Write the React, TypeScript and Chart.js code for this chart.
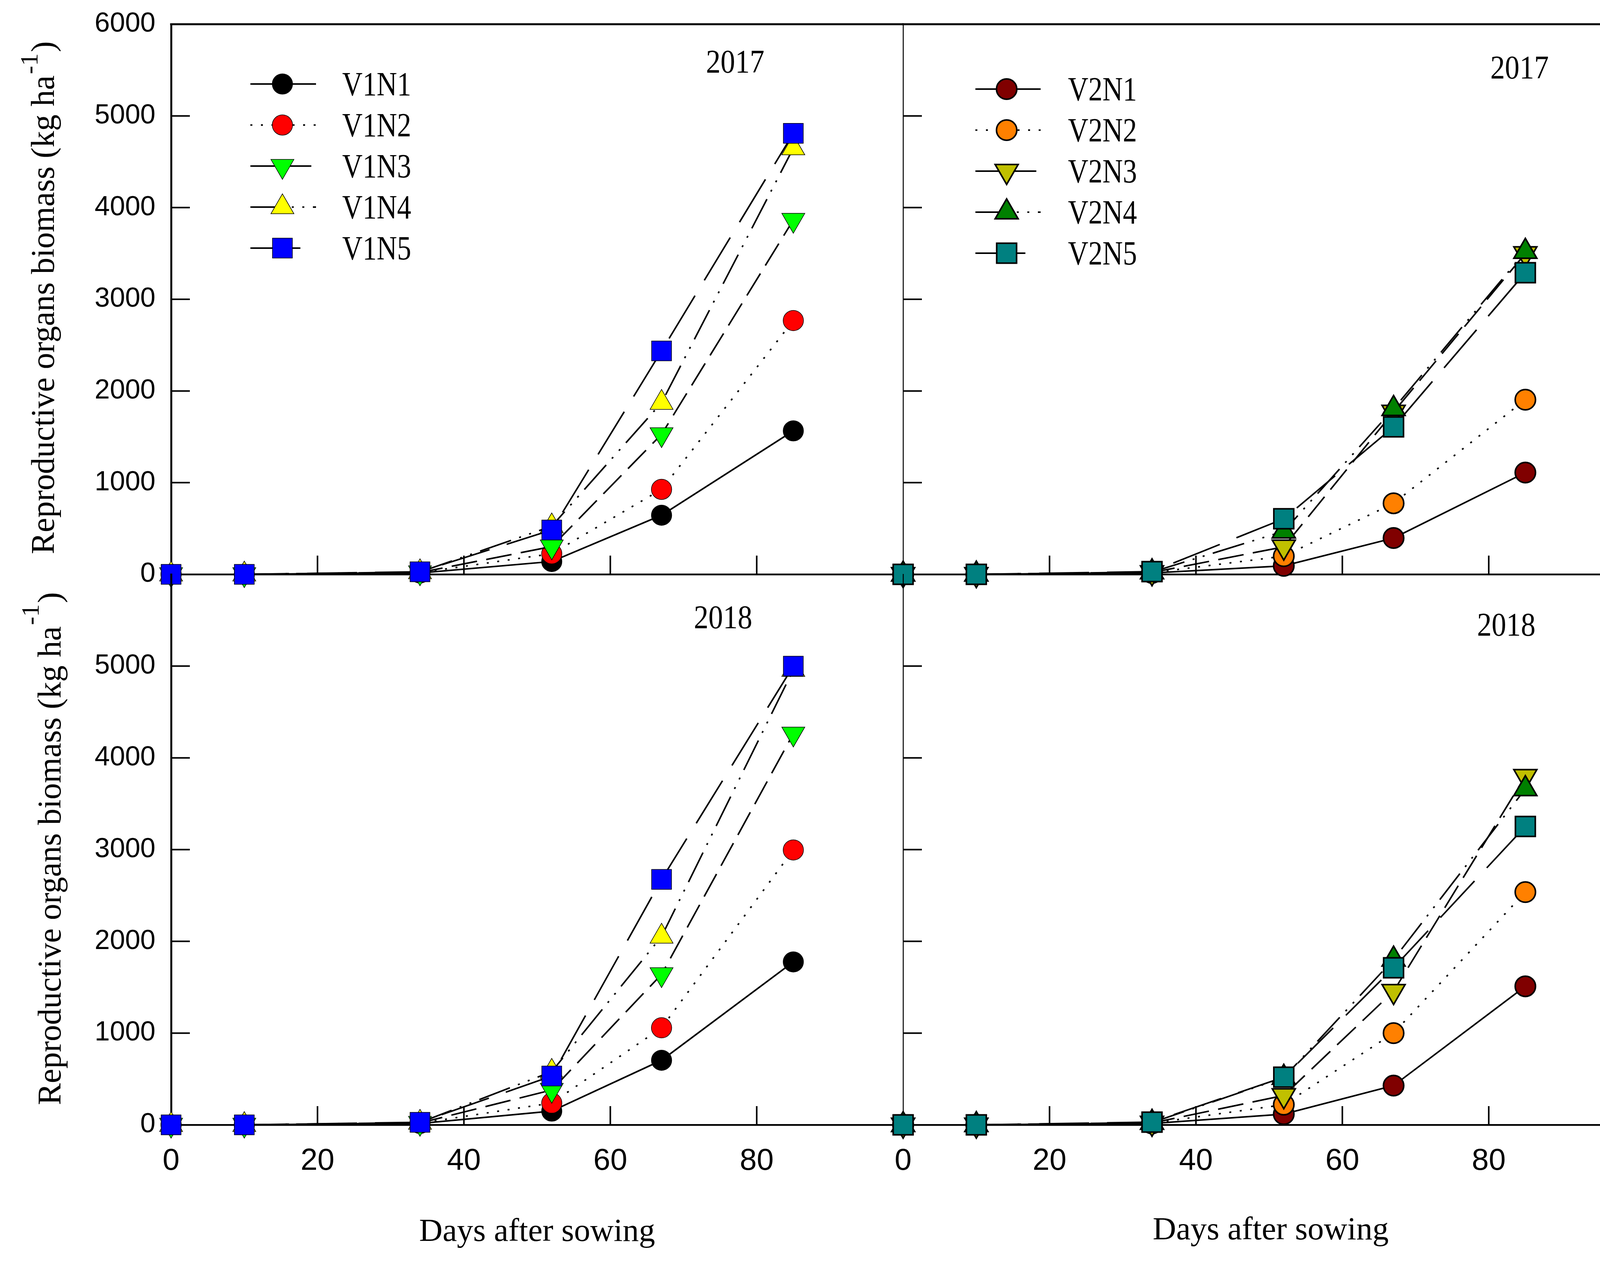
import React, { useEffect, useRef } from 'react';
import { Chart, registerables } from 'chart.js';
import { drawPoint } from 'chart.js/helpers';

Chart.register(...registerables);

// ---------------- data ----------------
const days = [0, 10, 34, 52, 67, 85];
const xTickValues = [20, 40, 60, 80];
const yTickValues = [1000, 2000, 3000, 4000, 5000];
const v1Labels = ['V1N1', 'V1N2', 'V1N3', 'V1N4', 'V1N5'];
const v2Labels = ['V2N1', 'V2N2', 'V2N3', 'V2N4', 'V2N5'];
const yearLabels = ['2017', '2018'];

const v1N1_2017 = [0, 0, 15, 140, 645, 1565];
const v1N2_2017 = [0, 0, 18, 225, 927, 2768];
const v1N3_2017 = [0, 0, 20, 303, 1527, 3865];
const v1N4_2017 = [0, 0, 25, 525, 1872, 4648];
const v1N5_2017 = [0, 0, 28, 484, 2437, 4810];

const v2N1_2017 = [0, 0, 15, 93, 396, 1110];
const v2N2_2017 = [0, 0, 18, 198, 775, 1905];
const v2N3_2017 = [0, 0, 20, 300, 1771, 3500];
const v2N4_2017 = [0, 0, 25, 470, 1806, 3520];
const v2N5_2017 = [0, 0, 30, 606, 1608, 3290];

const v1N1_2018 = [0, 0, 15, 150, 704, 1776];
const v1N2_2018 = [0, 0, 18, 238, 1058, 2996];
const v1N3_2018 = [0, 0, 20, 380, 1640, 4263];
const v1N4_2018 = [0, 0, 25, 580, 2053, 4960];
const v1N5_2018 = [0, 0, 28, 532, 2675, 5000];

const v2N1_2018 = [0, 0, 15, 117, 428, 1510];
const v2N2_2018 = [0, 0, 18, 220, 1000, 2537];
const v2N3_2018 = [0, 0, 20, 320, 1456, 3800];
const v2N4_2018 = [0, 0, 25, 515, 1803, 3661];
const v2N5_2018 = [0, 0, 30, 520, 1712, 3252];

// ---------------- styles ----------------
const v1Colors = ['#000000', '#FF0000', '#00FF00', '#FFFF00', '#0000FF'];
const v2Colors = ['#800000', '#FF8000', '#C0C000', '#008000', '#008080'];
const pointStyles = ['circle', 'circle', 'triangle', 'triangle', 'rect'];
const pointRotations = [0, 0, 180, 0, 0];
const pointRadii = [26, 26, 34, 34, 36];
const dashes: number[][] = [[], [5, 22], [66, 24], [84, 22, 5, 22, 5, 22], [128, 46]];

const SERIF = '"Liberation Serif", "Times New Roman", serif';
const SANS = '"Liberation Sans", Arial, sans-serif';

function makeDatasets(labels: string[], series: number[][], colors: string[], pbw: number) {
  return labels.map((label, i) => ({
    label,
    data: days.map((d, j) => ({ x: d, y: series[i][j] })),
    borderColor: '#000',
    borderWidth: 4,
    borderDash: dashes[i],
    pointStyle: pointStyles[i],
    pointRotation: pointRotations[i],
    pointRadius: pointRadii[i],
    pointBackgroundColor: colors[i],
    pointBorderColor: '#000',
    pointBorderWidth: pbw,
    fill: false,
    tension: 0,
    clip: false,
    order: 5 - i,
  }));
}

type Cfg = {
  key: string;
  left: number; top: number; w: number; h: number;
  yAxisW: number; padTop: number; padRight: number; xAxisH: number;
  yLabels: boolean; xLabels: boolean; hideY6000: boolean; hideX100: boolean;
  yBorder: number; topBorder: boolean; rightBorder: boolean;
  datasets: any[];
  year: string; yearX: number; yearY: number;
  legend: null | { x1: number; x2: number; xm: number; tx: number; y0: number; dy: number };
  yTitle: null | { bx: number; cy: number; raise: number };
  xTitle: null | { cx: number; by: number };
};

const panels: Cfg[] = [
  {
    key: 'TL', left: 0, top: 0, w: 2372, h: 1540,
    yAxisW: 438, padTop: 62, padRight: 60, xAxisH: 70,
    yLabels: true, xLabels: false, hideY6000: false, hideX100: true,
    yBorder: 5, topBorder: true, rightBorder: false,
    datasets: makeDatasets(v1Labels, [v1N1_2017, v1N2_2017, v1N3_2017, v1N4_2017, v1N5_2017], v1Colors, 1.5),
    year: yearLabels[0], yearX: 1882, yearY: 186,
    legend: { x1: 641, x2: 809, xm: 723, tx: 876, y0: 215, dy: 105 },
    yTitle: { bx: 138, cy: 762, raise: 42 },
    xTitle: null,
  },
  {
    key: 'BL', left: 0, top: 1400, w: 2372, h: 1830,
    yAxisW: 438, padTop: 70, padRight: 60, xAxisH: 351,
    yLabels: true, xLabels: true, hideY6000: true, hideX100: true,
    yBorder: 5, topBorder: false, rightBorder: false,
    datasets: makeDatasets(v1Labels, [v1N1_2018, v1N2_2018, v1N3_2018, v1N4_2018, v1N5_2018], v1Colors, 1.5),
    year: yearLabels[1], yearX: 1851, yearY: 1608,
    legend: null,
    yTitle: { bx: 155, cy: 2172, raise: 56 },
    xTitle: { cx: 1375, by: 3176 },
  },
  {
    key: 'TR', left: 2232, top: 0, w: 2058, h: 1540,
    yAxisW: 80, padTop: 62, padRight: 104, xAxisH: 70,
    yLabels: false, xLabels: false, hideY6000: false, hideX100: false,
    yBorder: 2.5, topBorder: true, rightBorder: true,
    datasets: makeDatasets(v2Labels, [v2N1_2017, v2N2_2017, v2N3_2017, v2N4_2017, v2N5_2017], v2Colors, 4),
    year: yearLabels[0], yearX: 3890, yearY: 201,
    legend: { x1: 2497, x2: 2664, xm: 2577, tx: 2734, y0: 228, dy: 105 },
    yTitle: null,
    xTitle: null,
  },
  {
    key: 'BR', left: 2232, top: 1400, w: 2058, h: 1830,
    yAxisW: 80, padTop: 70, padRight: 104, xAxisH: 351,
    yLabels: false, xLabels: true, hideY6000: false, hideX100: false,
    yBorder: 2.5, topBorder: false, rightBorder: true,
    datasets: makeDatasets(v2Labels, [v2N1_2018, v2N2_2018, v2N3_2018, v2N4_2018, v2N5_2018], v2Colors, 4),
    year: yearLabels[1], yearX: 3856, yearY: 1627,
    legend: null,
    yTitle: null,
    xTitle: { cx: 3253, by: 3172 },
  },
];

function drawText(ctx: CanvasRenderingContext2D, s: string, x: number, y: number, size: number, sx: number, align: CanvasTextAlign) {
  ctx.save();
  ctx.translate(x, y);
  ctx.scale(sx, 1);
  ctx.font = `${size}px ${SERIF}`;
  ctx.textAlign = align;
  ctx.textBaseline = 'alphabetic';
  ctx.fillStyle = '#000';
  ctx.fillText(s, 0, 0);
  ctx.restore();
}

function makeAnnotate(cfg: Cfg) {
  return {
    id: 'annotate_' + cfg.key,
    beforeDatasetsDraw(chart: any) {
      const ctx: CanvasRenderingContext2D = chart.ctx;
      const ca = chart.chartArea;
      const xs = chart.scales.x;
      const ys = chart.scales.y;
      ctx.save();
      ctx.strokeStyle = '#000';
      ctx.setLineDash([]);
      ctx.lineCap = 'butt';
      ctx.lineWidth = 4;
      for (const v of yTickValues) {
        const py = ys.getPixelForValue(v);
        ctx.beginPath();
        ctx.moveTo(ca.left, py);
        ctx.lineTo(ca.left + 48, py);
        ctx.stroke();
      }
      for (const v of xTickValues) {
        const px = xs.getPixelForValue(v);
        ctx.beginPath();
        ctx.moveTo(px, ca.bottom);
        ctx.lineTo(px, ca.bottom - 48);
        ctx.stroke();
      }
      if (cfg.topBorder) {
        ctx.lineWidth = 5;
        ctx.beginPath();
        ctx.moveTo(ca.left - 2.5, ca.top);
        ctx.lineTo(ca.right + 1.5, ca.top);
        ctx.stroke();
      }
      if (cfg.rightBorder) {
        ctx.lineWidth = 2.5;
        ctx.beginPath();
        ctx.moveTo(ca.right, ca.top);
        ctx.lineTo(ca.right, ca.bottom);
        ctx.stroke();
      }
      ctx.restore();
    },
    afterDatasetsDraw(chart: any) {
      const ctx: CanvasRenderingContext2D = chart.ctx;
      const L = cfg.left, T = cfg.top;
      // year
      drawText(ctx, cfg.year, cfg.yearX - L, cfg.yearY - T, 84, 0.89, 'center');
      // legend
      if (cfg.legend) {
        const lg = cfg.legend;
        chart.data.datasets.forEach((ds: any, i: number) => {
          const y = lg.y0 + i * lg.dy - T;
          ctx.save();
          ctx.strokeStyle = '#000';
          ctx.lineWidth = ds.borderWidth;
          ctx.lineCap = 'butt';
          ctx.setLineDash(ds.borderDash || []);
          ctx.beginPath();
          ctx.moveTo(lg.x1 - L, y);
          ctx.lineTo(lg.x2 - L, y);
          ctx.stroke();
          ctx.setLineDash([]);
          ctx.fillStyle = ds.pointBackgroundColor;
          ctx.strokeStyle = ds.pointBorderColor;
          ctx.lineWidth = ds.pointBorderWidth;
          drawPoint(ctx, {
            pointStyle: ds.pointStyle,
            rotation: ds.pointRotation || 0,
            radius: ds.pointRadius,
            borderWidth: ds.pointBorderWidth,
          } as any, lg.xm - L, y);
          ctx.restore();
          drawText(ctx, ds.label, lg.tx - L, y + 29, 86, 0.84, 'left');
        });
      }
      // y title
      if (cfg.yTitle) {
        const yt = cfg.yTitle;
        const main = 'Reproductive organs biomass (kg ha';
        const sup = '-1';
        const close = ')';
        ctx.save();
        ctx.translate(yt.bx - L, yt.cy - T);
        ctx.rotate(-Math.PI / 2);
        ctx.fillStyle = '#000';
        ctx.textAlign = 'left';
        ctx.textBaseline = 'alphabetic';
        ctx.font = `84px ${SERIF}`;
        const wm = ctx.measureText(main).width;
        const wc = ctx.measureText(close).width;
        ctx.font = `64px ${SERIF}`;
        const ws = ctx.measureText(sup).width;
        let x = -(wm + ws + wc + 6) / 2;
        ctx.font = `84px ${SERIF}`;
        ctx.fillText(main, x, 0);
        x += wm + 3;
        ctx.font = `64px ${SERIF}`;
        ctx.fillText(sup, x, -yt.raise);
        x += ws + 3;
        ctx.font = `84px ${SERIF}`;
        ctx.fillText(close, x, 0);
        ctx.restore();
      }
      // x title
      if (cfg.xTitle) {
        drawText(ctx, 'Days after sowing', cfg.xTitle.cx - L, cfg.xTitle.by - T, 83, 1, 'center');
      }
    },
  };
}

function zeroPadding(s: any) {
  s.paddingTop = 0;
  s.paddingBottom = 0;
  s.paddingLeft = 0;
  s.paddingRight = 0;
}

function buildConfig(cfg: Cfg): any {
  return {
    type: 'line',
    data: { datasets: cfg.datasets },
    options: {
      animation: false,
      responsive: false,
      devicePixelRatio: 1,
      events: [],
      layout: { padding: { left: 0, top: cfg.padTop, right: cfg.padRight, bottom: 0 } },
      plugins: { legend: { display: false }, tooltip: { enabled: false }, title: { display: false } },
      scales: {
        x: {
          type: 'linear', min: 0, max: 100,
          grid: { drawOnChartArea: false, drawTicks: false },
          border: { display: true, width: 4.5, color: '#000' },
          ticks: {
            display: cfg.xLabels, stepSize: 20, padding: 47, autoSkip: false, maxRotation: 0,
            color: '#000', font: { family: SANS, size: 78 },
            callback: (v: number) => (cfg.hideX100 && v === 100 ? '' : String(v)),
          },
          afterFit: (s: any) => { s.height = cfg.xAxisH; zeroPadding(s); },
        },
        y: {
          type: 'linear', min: 0, max: 6000,
          grid: { drawOnChartArea: false, drawTicks: false },
          border: { display: true, width: cfg.yBorder, color: '#000' },
          ticks: {
            display: cfg.yLabels, stepSize: 1000, padding: 40, autoSkip: false,
            color: '#000', font: { family: SANS, size: 70 },
            callback: (v: number) => (cfg.hideY6000 && v === 6000 ? '' : String(v)),
          },
          afterFit: (s: any) => { s.width = cfg.yAxisW; zeroPadding(s); },
        },
      },
    },
    plugins: [makeAnnotate(cfg)],
  };
}

function Panel({ cfg }: { cfg: Cfg }) {
  const ref = useRef<HTMLCanvasElement>(null);
  useEffect(() => {
    const chart = new Chart(ref.current as HTMLCanvasElement, buildConfig(cfg));
    return () => chart.destroy();
  }, [cfg]);
  return (
    <canvas
      ref={ref}
      width={cfg.w}
      height={cfg.h}
      style={{ position: 'absolute', left: cfg.left, top: cfg.top, width: cfg.w, height: cfg.h }}
    />
  );
}

export default function App() {
  return (
    <div style={{ position: 'absolute', left: 0, top: 0, width: 4290, height: 3230, background: '#fff', overflow: 'hidden' }}>
      {panels.map((p) => (
        <Panel key={p.key} cfg={p} />
      ))}
    </div>
  );
}
